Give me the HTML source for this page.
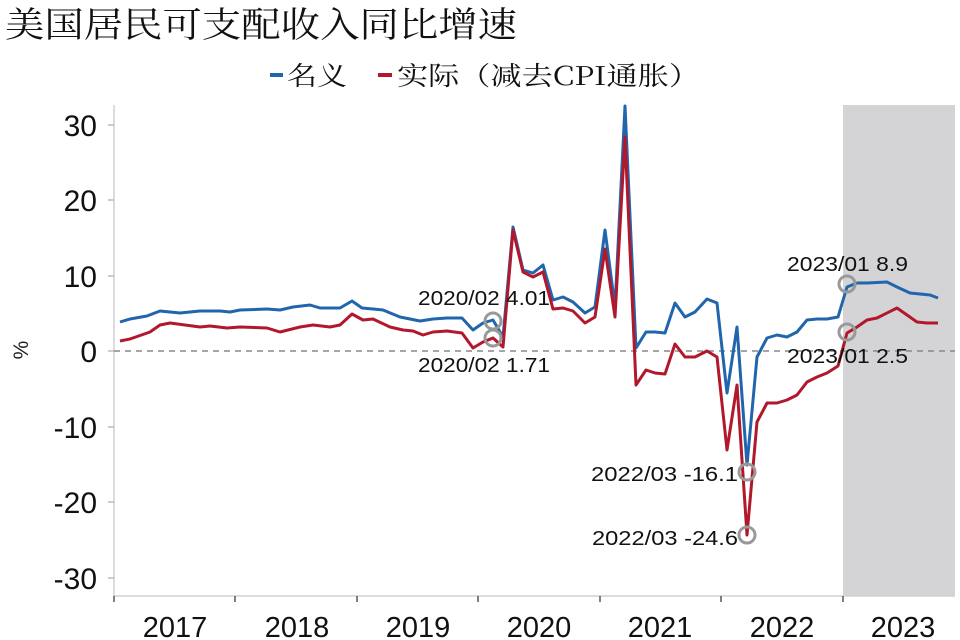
<!DOCTYPE html>
<html><head><meta charset="utf-8"><style>
html,body{margin:0;padding:0;background:#fff;width:960px;height:640px;overflow:hidden}
</style></head><body>
<svg width="960" height="640" viewBox="0 0 960 640" xmlns="http://www.w3.org/2000/svg">
<rect width="960" height="640" fill="#fff"/>
<text x="5" y="37" font-family="Noto Serif CJK SC, serif" font-size="35" fill="#111" textLength="512" lengthAdjust="spacingAndGlyphs">美国居民可支配收入同比增速</text>
<line x1="270" y1="75" x2="283" y2="75" stroke="#2166ac" stroke-width="4"/>
<text x="287" y="85" font-family="Noto Serif CJK SC, serif" font-size="26" fill="#111" textLength="60" lengthAdjust="spacingAndGlyphs">名义</text>
<line x1="378" y1="75" x2="392" y2="75" stroke="#b2182b" stroke-width="4"/>
<text x="397" y="85" font-family="Noto Serif CJK SC, serif" font-size="26" fill="#111" textLength="303" lengthAdjust="spacingAndGlyphs">实际（减去CPI通胀）</text>
<rect x="843" y="105" width="112" height="491" fill="#d4d4d6"/>
<line x1="114" y1="105" x2="114" y2="597" stroke="#d0d0d0" stroke-width="1.5"/>
<line x1="114" y1="596" x2="955" y2="596" stroke="#d0d0d0" stroke-width="1.5"/>
<g stroke="#bbb" stroke-width="1.5">
<line x1="108" y1="125" x2="114" y2="125"/><line x1="108" y1="200" x2="114" y2="200"/>
<line x1="108" y1="276" x2="114" y2="276"/><line x1="108" y1="351" x2="114" y2="351"/>
<line x1="108" y1="427" x2="114" y2="427"/><line x1="108" y1="502" x2="114" y2="502"/>
<line x1="108" y1="578" x2="114" y2="578"/>
</g>
<g stroke="#555" stroke-width="1.5">
<line x1="114" y1="596" x2="114" y2="602"/><line x1="235" y1="596" x2="235" y2="602"/>
<line x1="357" y1="596" x2="357" y2="602"/><line x1="478" y1="596" x2="478" y2="602"/>
<line x1="600" y1="596" x2="600" y2="602"/><line x1="721" y1="596" x2="721" y2="602"/>
<line x1="843" y1="596" x2="843" y2="602"/>
</g>
<g font-family="Liberation Sans, sans-serif" font-size="30" fill="#111" text-anchor="end">
<text x="97" y="136">30</text><text x="97" y="211">20</text><text x="97" y="287">10</text>
<text x="97" y="362">0</text><text x="97" y="438">-10</text><text x="97" y="513">-20</text><text x="97" y="589">-30</text>
</g>
<g font-family="Liberation Sans, sans-serif" font-size="29" fill="#111" text-anchor="middle">
<text x="175" y="637">2017</text><text x="297" y="637">2018</text><text x="418" y="637">2019</text>
<text x="539" y="637">2020</text><text x="660" y="637">2021</text><text x="782" y="637">2022</text><text x="903" y="637">2023</text>
</g>
<text transform="translate(28,350) rotate(-90)" font-family="Liberation Sans, sans-serif" font-size="21" fill="#222" text-anchor="middle">%</text>
<line x1="114" y1="351" x2="955" y2="351" stroke="#888" stroke-width="1.5" stroke-dasharray="6,5"/>
<polyline fill="none" stroke="#2166ac" stroke-width="3" stroke-linejoin="round" points="120,322 130,319 147,316 160,311 180,313 200,311 220,311 230,312 240,310 267,309 280,310 293,307 310,305 320,308 340,308 352,301 362,308 373,309 383,310 400,317 420,321 433,319 447,318 462,318 473,330 483,323 493,320 503,337 513,227 523,270 533,273 543,265 553,300 563,297 573,302 585,313 595,307 605,230 615,307 625,106 636,348 646,332 655,332 665,333 675,303 685,317 695,312 707,299 717,303 727,393 737,327 747,465 757,357 767,338 777,335 787,337 797,332 807,320 817,319 827,319 838,317 847,287 857,283 867,283 887,282 897,287 910,293 930,295 938,298"/>
<polyline fill="none" stroke="#b2182b" stroke-width="3" stroke-linejoin="round" points="120,341 130,339 150,332 160,325 170,323 200,327 210,326 227,328 240,327 267,328 280,332 300,327 313,325 330,327 340,325 352,314 363,320 373,319 390,327 403,330 413,331 423,335 433,332 447,331 462,333 473,348 483,342 493,338 503,347 513,230 523,272 533,277 543,272 553,309 563,308 573,311 585,323 595,317 605,249 615,317 625,137 636,385 646,370 655,373 665,374 675,344 685,357 695,357 707,351 717,357 727,450 737,385 747,535 757,422 767,403 777,403 787,400 797,395 807,382 817,377 827,373 838,366 847,333 857,327 867,320 877,318 897,308 907,315 917,322 927,323 938,323"/>
<g fill="none" stroke="#999" stroke-width="3">
<circle cx="493" cy="321" r="8"/><circle cx="493" cy="338" r="8"/>
<circle cx="847" cy="284" r="8"/><circle cx="847" cy="332" r="8"/>
<circle cx="747" cy="472" r="8"/><circle cx="747" cy="535" r="8"/>
</g>
<g font-family="Liberation Sans, sans-serif" font-size="20" fill="#111">
<text x="418" y="305" textLength="132" lengthAdjust="spacingAndGlyphs">2020/02  4.01</text>
<text x="418" y="372" textLength="132" lengthAdjust="spacingAndGlyphs">2020/02  1.71</text>
<text x="787" y="271" textLength="121" lengthAdjust="spacingAndGlyphs">2023/01  8.9</text>
<text x="787" y="363" textLength="121" lengthAdjust="spacingAndGlyphs">2023/01  2.5</text>
<text x="591" y="481" textLength="147" lengthAdjust="spacingAndGlyphs">2022/03  -16.1</text>
<text x="592" y="545" textLength="146" lengthAdjust="spacingAndGlyphs">2022/03  -24.6</text>
</g>
</svg>
</body></html>
